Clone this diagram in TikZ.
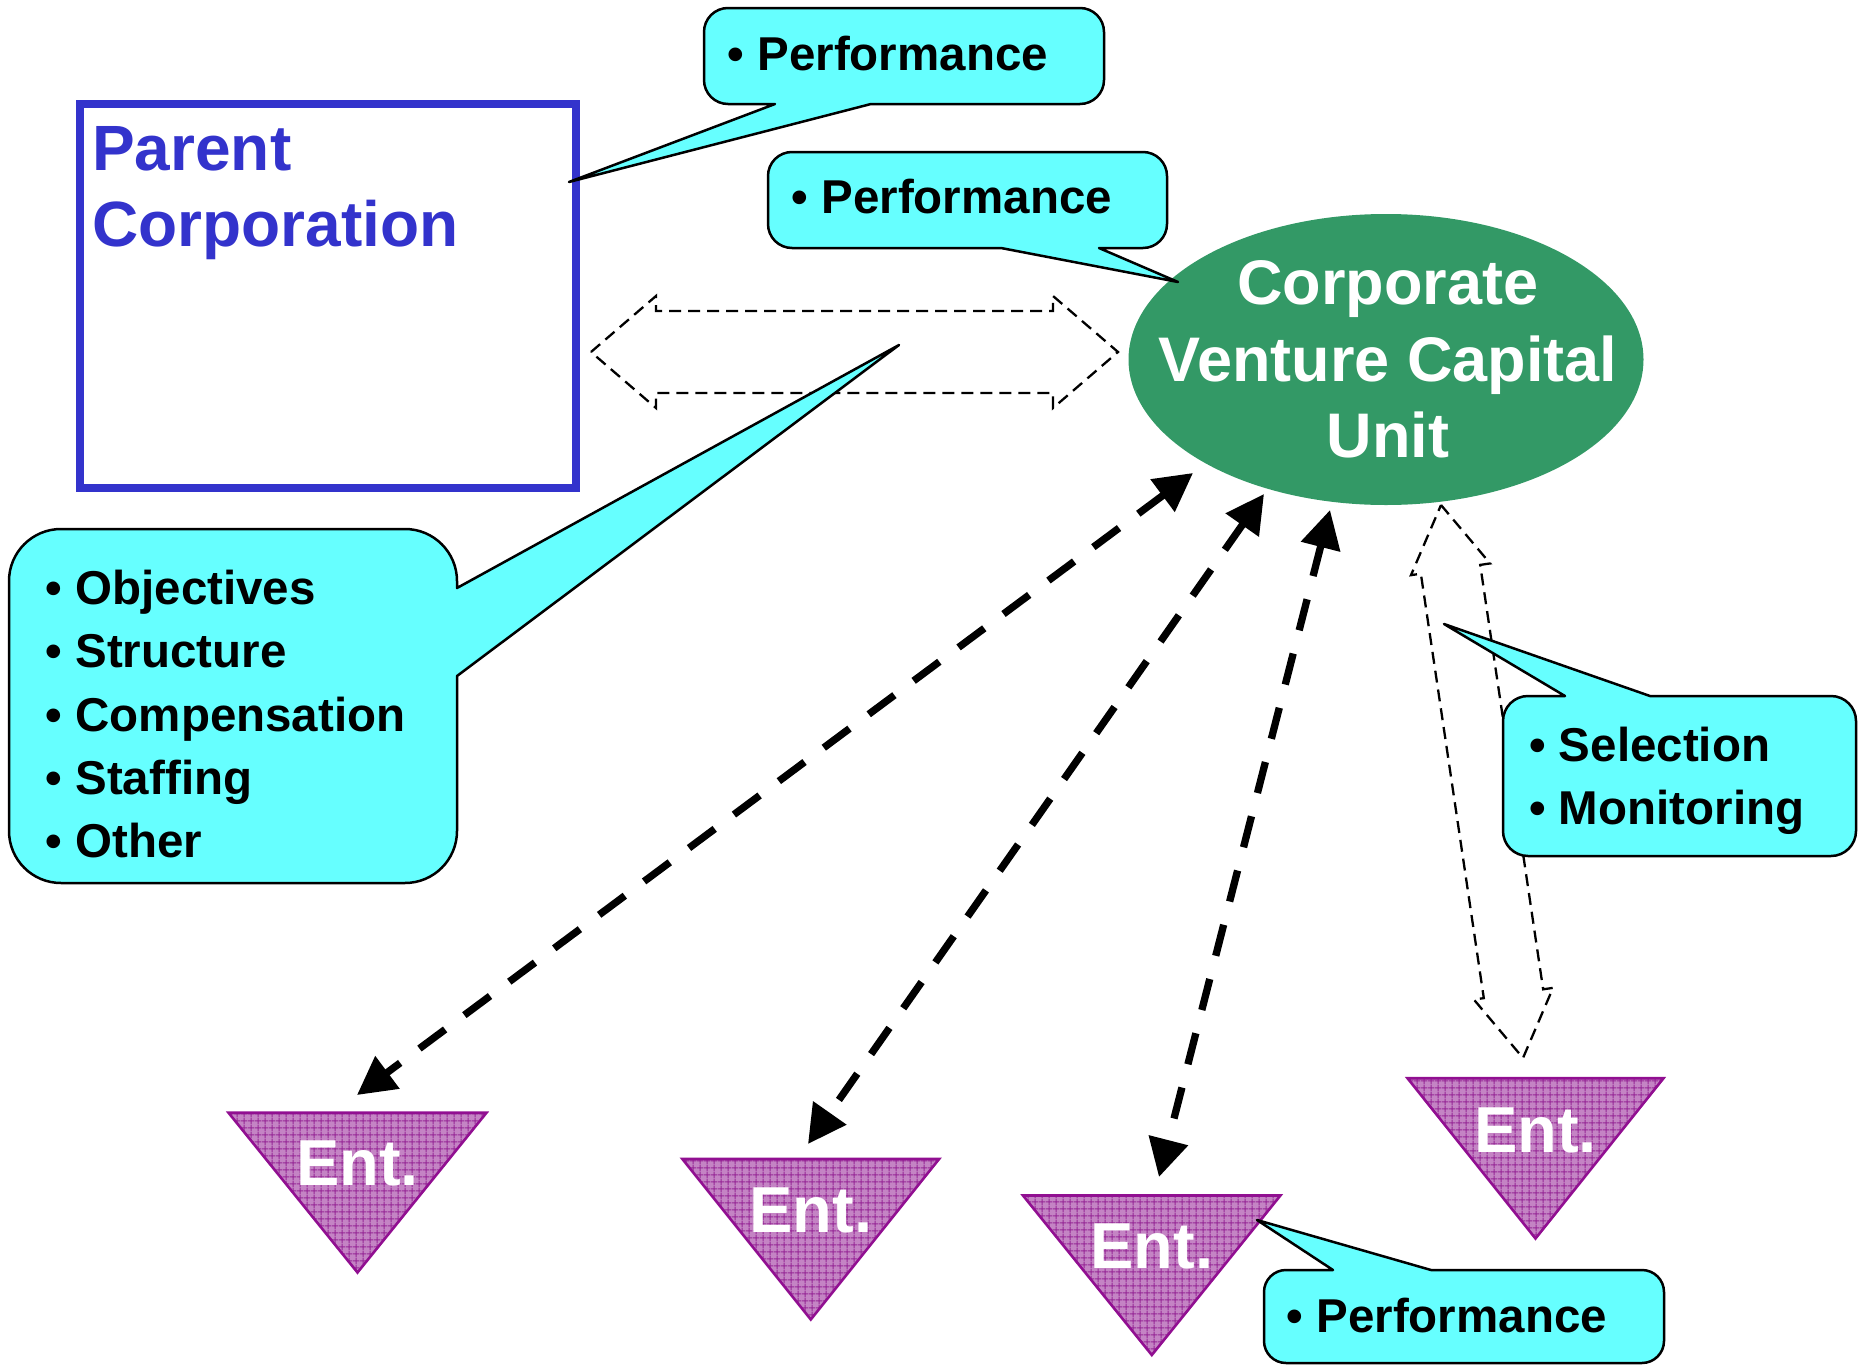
\documentclass[tikz,border=0pt]{standalone}
\usepackage{fontspec}
\setmainfont{Liberation Sans}
\usetikzlibrary{arrows.meta,calc,shapes.geometric,patterns.meta}

\definecolor{callcyan}{RGB}{102,255,255}
\definecolor{cvcgreen}{RGB}{51,153,102}
\definecolor{parentblue}{RGB}{51,51,204}
\definecolor{entpurple}{RGB}{145,15,145}
\definecolor{entpink}{RGB}{196,132,196}
\definecolor{entgridline}{RGB}{150,40,150}

\tikzdeclarepattern{
  name=entgrid,
  type=uncolored,
  bottom left={(0pt,0pt)},
  top right={(6.7pt,6.7pt)},
  tile size={(6.7pt,6.7pt)},
  code={\draw[line width=1pt] (0pt,3.35pt) -- (6.7pt,3.35pt) (3.35pt,0pt) -- (3.35pt,6.7pt);}
}

% hollow two-way block arrow: tips, shaft half width, head half width, head length
\newcommand{\twowayarrow}[5]{%
  \draw[hollow] (#1)
    -- ($(#1)!#5!(#2)!#4!90:(#2)$)
    -- ($(#1)!#5!(#2)!#3!90:(#2)$)
    -- ($(#2)!#5!(#1)!#3!-90:(#1)$)
    -- ($(#2)!#5!(#1)!#4!-90:(#1)$)
    -- (#2)
    -- ($(#2)!#5!(#1)!#4!90:(#1)$)
    -- ($(#2)!#5!(#1)!#3!90:(#1)$)
    -- ($(#1)!#5!(#2)!#3!-90:(#2)$)
    -- ($(#1)!#5!(#2)!#4!-90:(#2)$)
    -- cycle;}

\begin{document}
\begin{tikzpicture}[x=1pt,y=-1pt,
  callout/.style={draw=black,line width=2.5pt,fill=callcyan,line join=round},
  calltext/.style={anchor=base west,inner sep=0pt,font=\bfseries\fontsize{47.5}{59}\selectfont},
  hollow/.style={draw=black,line width=2.3pt,dash pattern=on 12pt off 7pt},
  bigdash/.style={line width=7.3pt,dash pattern=on 32pt off 24pt,<->,>={Triangle[length=38pt,width=39pt]}},
  parentbox/.style={draw=parentblue,line width=7.5pt,minimum width=496pt,minimum height=384pt,inner sep=0pt},
  parenttext/.style={anchor=base west,inner sep=0pt,text=parentblue,font=\bfseries\fontsize{64}{77}\selectfont},
  cvctext/.style={inner sep=0pt,text=white,align=center,font=\bfseries\fontsize{63}{76.7}\selectfont},
  enttri/.style={draw=entpurple,line width=2.6pt,line join=miter,preaction={fill=entpink},pattern=entgrid,pattern color=entgridline},
  enttext/.style={anchor=base,inner sep=0pt,text=white,font=\bfseries\fontsize{65}{78}\selectfont}]
\useasboundingbox (0,0) rectangle (1864,1365);

% hollow block arrows
\coordinate (blockL) at (591,352);
\coordinate (blockR) at (1118,352);
\coordinate (blockT) at (1441,505);
\coordinate (blockB) at (1523,1058);
\twowayarrow{blockL}{blockR}{41pt}{56pt}{65pt}
\twowayarrow{blockT}{blockB}{30pt}{40pt}{65pt}

% parent corporation
\node[parentbox] (parent) at (328,296) {};
\node[parenttext] (parentA) at (92,170) {Parent};
\node[parenttext] (parentB) at (92,246.7) {Corporation};

% venture capital unit
\node[ellipse,fill=cvcgreen,minimum width=515pt,minimum height=291pt,inner sep=0pt] (cvc) at (1386,359.5) {};
\node[cvctext] (cvclabel) at (1388,359.5) {Corporate\\Venture Capital\\Unit};

% ventures
\draw[enttri] (228.5,1112.7) -- (486.5,1112.7) -- (357.5,1272.5) -- cycle;
\draw[enttri] (682.4,1159) -- (939.1,1159) -- (810.8,1319.5) -- cycle;
\draw[enttri] (1023,1195.5) -- (1280.4,1195.5) -- (1151.8,1355) -- cycle;
\draw[enttri] (1407.5,1078.2) -- (1663.5,1078.2) -- (1535.5,1238.5) -- cycle;
\node[enttext] (entA) at (357.5,1185) {Ent.};
\node[enttext] (entB) at (810.8,1232.8) {Ent.};
\node[enttext] (entC) at (1151.8,1268) {Ent.};
\node[enttext] (entD) at (1535.5,1152.2) {Ent.};

% callouts
\draw[callout] (775,104) [rounded corners=24pt] -- (704,104) -- (704,8) -- (1104,8) -- (1104,104) [sharp corners] -- (871,104) -- (569,182) -- cycle;
\node[calltext] (perfA) at (727.5,70) {• Performance};
\draw[callout] (1001,248) [rounded corners=24pt] -- (768,248) -- (768,152) -- (1167,152) -- (1167,248) [sharp corners] -- (1099,248) -- (1178,282) -- cycle;
\node[calltext] (perfB) at (791.5,213) {• Performance};
\draw[callout] (457,676) [rounded corners=52pt] -- (457,883) -- (9,883) -- (9,529) -- (457,529) [sharp corners] -- (457,588) -- (899,345) -- cycle;
\node[calltext] (objA) at (45.5,604) {• Objectives};
\node[calltext] (objB) at (45.5,667) {• Structure};
\node[calltext] (objC) at (45.5,731) {• Compensation};
\node[calltext] (objD) at (45.5,794) {• Staffing};
\node[calltext] (objE) at (45.5,857) {• Other};
\draw[callout] (1650,696) [rounded corners=25pt] -- (1856,696) -- (1856,856) -- (1503,856) -- (1503,696) [sharp corners] -- (1565,696) -- (1444,624) -- cycle;
\node[calltext] (selA) at (1529,761) {• Selection};
\node[calltext] (selB) at (1529,824) {• Monitoring};
\draw[callout] (1431,1270) [rounded corners=22pt] -- (1664,1270) -- (1664,1363) -- (1264,1363) -- (1264,1270) [sharp corners] -- (1333,1270) -- (1257,1220) -- cycle;
\node[calltext] (perfC) at (1286.5,1332) {• Performance};

% dashed links to the ventures
\coordinate (linkA1) at (1193,473);
\coordinate (linkA2) at (357,1095);
\coordinate (linkB1) at (1264,494);
\coordinate (linkB2) at (808,1144);
\coordinate (linkC1) at (1330,510);
\coordinate (linkC2) at (1159,1177);
\draw[bigdash] (linkA1) -- (linkA2);
\draw[bigdash] (linkB1) -- (linkB2);
\draw[bigdash] (linkC1) -- (linkC2);
\end{tikzpicture}
\end{document}
